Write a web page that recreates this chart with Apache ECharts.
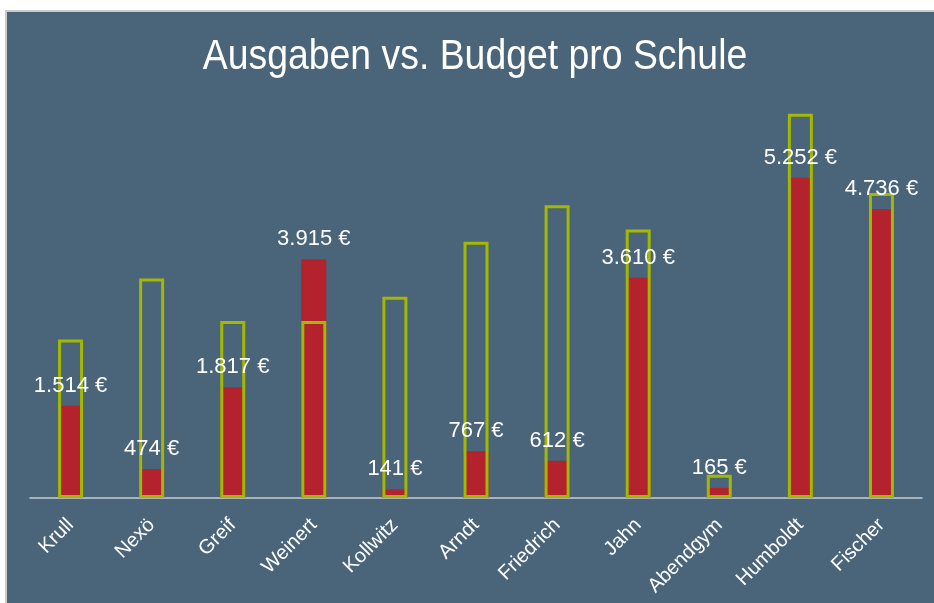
<!DOCTYPE html>
<html>
<head>
<meta charset="utf-8">
<script src="https://cdn.jsdelivr.net/npm/echarts@6/dist/echarts.min.js"></script>
<style>
  html, body { margin: 0; padding: 0; background: #ffffff; width: 934px; height: 603px; overflow: hidden; }
  #frame { position: absolute; left: 5px; top: 10px; width: 927px; height: 591px;
           border-top: 2px solid #c9cbcd; border-left: 2px solid #c9cbcd; background: #4a6479; }
  #chart { width: 927px; height: 591px; }
</style>
</head>
<body>
<div id="frame"><div id="chart"></div></div>
<script>
const categories = ['Krull', 'Nexö', 'Greif', 'Weinert', 'Kollwitz', 'Arndt', 'Friedrich', 'Jahn', 'Abendgym', 'Humboldt', 'Fischer'];
const ausgaben = [1514, 474, 1817, 3915, 141, 767, 612, 3610, 165, 5252, 4736];
const budget = [2600, 3600, 2900, 2900, 3300, 4200, 4800, 4400, 380, 6300, 5000];
const titleText = 'Ausgaben vs. Budget pro Schule';

function euro(v) {
  const s = String(Math.round(v)).replace(/\B(?=(\d{3})+(?!\d))/g, '.');
  return s + ' €';
}

const chart = echarts.init(document.getElementById('chart'), null, { renderer: 'canvas' });
chart.setOption({
  backgroundColor: '#4a6479',
  animation: false,
  graphic: [{
    type: 'text',
    x: 468,
    y: 45,
    scaleX: 0.89,
    style: {
      text: titleText,
      fill: '#ffffff',
      font: 'normal 42px "Liberation Sans", Arial, sans-serif',
      textAlign: 'center',
      textVerticalAlign: 'middle'
    }
  }],
  grid: { left: 23, right: 12, top: 59, bottom: 105, containLabel: false },
  xAxis: {
    type: 'category',
    data: categories,
    axisLine: { show: true, lineStyle: { color: '#c8cdd2', width: 1.5 } },
    axisTick: { show: false },
    axisLabel: {
      color: '#ffffff',
      rotate: 45,
      margin: 24,
      fontSize: 20,
      fontFamily: '"Liberation Sans", Arial, sans-serif',
      interval: 0
    }
  },
  yAxis: {
    type: 'value',
    min: 0,
    max: 7000,
    show: false,
    splitLine: { show: false }
  },
  series: [
    {
      name: 'Ausgaben',
      type: 'bar',
      data: ausgaben,
      barWidth: 25,
      barGap: '-100%',
      itemStyle: { color: '#b3222d' },
      label: {
        show: true,
        position: 'top',
        distance: 9,
        color: '#ffffff',
        fontSize: 22,
        fontFamily: '"Liberation Sans", Arial, sans-serif',
        formatter: p => euro(p.value)
      },
      z: 2
    },
    {
      name: 'Budget',
      type: 'bar',
      data: budget,
      barWidth: 25,
      barGap: '-100%',
      itemStyle: { color: 'rgba(0,0,0,0)', borderColor: '#a3b800', borderWidth: 3 },
      z: 2
    }
  ]
});
</script>
</body>
</html>
